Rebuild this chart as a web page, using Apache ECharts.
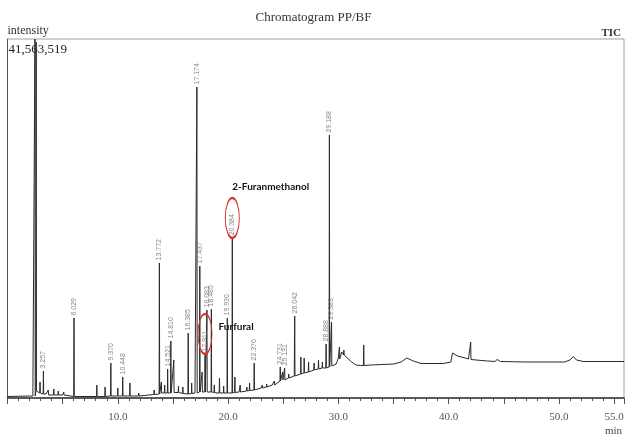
<!DOCTYPE html>
<html>
<head>
<meta charset="utf-8">
<script src="https://cdn.jsdelivr.net/npm/echarts@6/dist/echarts.min.js"></script>
<style>
  html, body { margin: 0; padding: 0; background: #fff; }
  #chart { width: 627px; height: 442px; }
</style>
</head>
<body>
<div id="chart"></div>
<script>
// Total ion chromatogram, PP/BF sample (retention time in min, intensity in counts)
const yMax = 41563519;
const xMax = 55.9;
const xTickLabels = [10, 20, 30, 40, 50, 55];

// Slowly varying baseline / broad humps
const baseT = [0, 2.3, 2.8, 3.5, 5.0, 6.5, 9.0, 12.0, 13.5, 14.0, 15.0, 16.0, 17.0, 18.0, 19.0, 20.0,
  21.0, 22.0, 23.0, 24.0, 25.0, 26.0, 27.0, 28.0, 29.0, 29.8, 30.0, 30.3, 30.7, 31.2, 31.6, 32.0,
  33.0, 35.0, 35.7, 36.2, 36.8, 37.5, 39.5, 40.2, 40.35, 40.8, 41.5, 41.8, 42.5, 43.5, 44.2,
  44.4, 44.7, 47.0, 50.5, 51.0, 51.3, 51.6, 52.2, 55.9];
const baseV = [174000, 232000, 810000, 463000, 347000, 174000, 174000, 232000, 405000, 579000, 637000,
  521000, 579000, 695000, 579000, 579000, 695000, 868000, 1158000, 1505000, 2084000, 2547000,
  3010000, 3358000, 3589000, 3936000, 4631000, 5326000, 4978000, 4168000, 3821000, 3763000,
  3821000, 3936000, 4168000, 4631000, 4284000, 3994000, 3994000, 4168000, 5210000, 4863000,
  4631000, 4515000, 4399000, 4284000, 4226000, 4457000, 4226000, 4168000, 4168000, 4399000,
  4805000, 4399000, 4226000, 4226000];

// Peaks: apex time, apex intensity, foot level, printed retention time ('' = unlabelled)
const peakT = [2.49, 2.60, 2.95, 3.257, 3.7, 4.2, 4.6, 5.1, 6.029, 8.1, 8.85, 9.370, 10.0, 10.448,
  11.1, 11.9, 13.3, 13.772, 13.95, 14.25, 14.521, 14.810, 15.08, 15.5, 15.9, 16.385, 16.7, 17.174,
  17.437, 17.65, 17.911, 18.083, 18.485, 18.75, 19.22, 19.6, 19.930, 20.384, 20.62, 21.1, 21.7,
  21.95, 22.370, 23.1, 23.5, 24.2, 24.731, 24.95, 25.131, 25.5, 26.042, 26.6, 26.9, 27.3, 27.8,
  28.2, 28.55, 28.888, 29.188, 29.383, 30.1, 30.5, 32.3, 42.0];
const peakV = [41563519, 41200000, 1852000, 3126000, 926000, 1042000, 810000, 695000, 9262000,
  1505000, 1274000, 4052000, 1158000, 2431000, 1737000, 579000, 926000, 15630000, 1852000,
  1505000, 3358000, 6599000, 4399000, 1389000, 1274000, 7525000, 1737000, 36006000, 15282000,
  3010000, 5094000, 10188000, 10304000, 1505000, 2316000, 1389000, 9262000, 18524000, 2431000,
  1505000, 1274000, 1737000, 4052000, 1505000, 1621000, 1968000, 3589000, 3010000, 3473000,
  2779000, 9494000, 4747000, 4631000, 4168000, 4052000, 4399000, 4168000, 6252000, 30449000,
  8799000, 5905000, 5557000, 6136000, 6483000];
const peakBase = [232000, 810000, 579000, 463000, 347000, 347000, 347000, 347000, 174000,
  174000, 174000, 232000, 232000, 232000, 232000, 232000, 405000, 463000, 579000, 579000,
  579000, 579000, 637000, 637000, 521000, 463000, 521000, 579000, 695000, 695000, 695000,
  695000, 695000, 637000, 579000, 579000, 579000, 579000, 637000, 695000, 810000, 868000,
  926000, 1158000, 1274000, 1505000, 1968000, 2084000, 2084000, 2316000, 2547000, 2779000,
  2895000, 3010000, 3242000, 3358000, 3473000, 3473000, 3589000, 3705000, 4515000, 4978000,
  3763000, 4457000];
const peakText = ['', '', '', '3.257', '', '', '', '', '6.029', '', '', '9.370', '', '10.448',
  '', '', '', '13.772', '', '', '14.521', '14.810', '', '', '', '16.385', '', '17.174',
  '17.437', '', '17.911', '18.083', '18.485', '', '', '', '19.930', '20.384', '', '', '',
  '', '22.370', '', '', '', '24.731', '', '25.131', '', '26.042', '', '', '', '', '', '',
  '28.888', '29.188', '29.383', '', '', '', ''];

// Identified compounds
const compoundPeaks = ['17.911', '20.384'];
const compoundNames = ['Furfural', '2-Furanmethanol'];

// Assemble the trace: baseline points plus a narrow spike for every peak
const halfWidth = 0.025;
const trace = baseT.map((t, i) => [t, baseV[i]]);
peakT.forEach((t, i) => {
  trace.push([t - halfWidth, peakBase[i]], [t, peakV[i]], [t + halfWidth, peakBase[i]]);
});
trace.sort((a, b) => a[0] - b[0]);

const labelled = [];
peakText.forEach((s, i) => { if (s) labelled.push({ value: [peakT[i], peakV[i]], name: s }); });

const compoundMarks = compoundPeaks.map((s, k) => {
  const i = peakText.indexOf(s);
  const first = k === 0;
  return {
    coord: [peakT[i], peakV[i]],
    symbol: 'circle',
    symbolSize: [14, 40],
    symbolOffset: [0, '-50%'],
    itemStyle: { color: 'rgba(0,0,0,0)', borderColor: '#d6312b', borderWidth: 1.6 },
    label: {
      show: true,
      formatter: compoundNames[k],
      position: first ? 'right' : 'top',
      distance: first ? 6 : 5,
      align: 'left',
      verticalAlign: first ? 'middle' : 'bottom',
      offset: first ? [0, -7] : [0, 0],
      fontFamily: 'Lato',
      fontWeight: 'bold',
      fontSize: 10,
      color: '#111'
    }
  };
});

const serif = 'Liberation Serif';
const chart = echarts.init(document.getElementById('chart'), null, { renderer: 'canvas' });
chart.setOption({
  animation: false,
  backgroundColor: '#fff',
  title: [
    { text: 'Chromatogram PP/BF', left: 'center', top: 6,
      textStyle: { fontFamily: serif, fontSize: 13, fontWeight: 'normal', color: '#333' } },
    { text: 'TIC', right: 1, top: 23,
      textStyle: { fontFamily: serif, fontSize: 11, fontWeight: 'bold', color: '#333' } }
  ],
  grid: { left: 7.5, right: 2, top: 39, bottom: 44, show: true, borderColor: '#a0a0a0', borderWidth: 1 },
  xAxis: [
    {
      type: 'value', min: 0, max: xMax, interval: 1,
      name: 'min', nameLocation: 'end', nameGap: -2,
      nameTextStyle: { fontFamily: serif, fontSize: 11, color: '#444', align: 'right', verticalAlign: 'top', padding: [28, 0, 0, 0] },
      axisLine: { lineStyle: { color: '#333', width: 1.5 } },
      axisTick: { length: 3, lineStyle: { color: '#555' } },
      splitLine: { show: false },
      axisLabel: {
        margin: 14, fontFamily: serif, fontSize: 11, color: '#555',
        formatter: v => (xTickLabels.indexOf(v) >= 0 ? v.toFixed(1) : '')
      }
    },
    {
      type: 'value', min: 0, max: xMax, interval: 5, position: 'bottom',
      axisLine: { show: false },
      axisTick: { length: 6, lineStyle: { color: '#555' } },
      axisLabel: { show: false },
      splitLine: { show: false }
    }
  ],
  yAxis: {
    type: 'value', min: 0, max: yMax, interval: yMax,
    name: 'intensity', nameLocation: 'end', nameGap: 2,
    nameTextStyle: { fontFamily: serif, fontSize: 12, color: '#333', align: 'left', verticalAlign: 'bottom' },
    axisLine: { show: true, lineStyle: { color: '#555', width: 1 } },
    axisTick: { show: false },
    splitLine: { show: false },
    axisLabel: {
      inside: true, margin: 1, fontFamily: serif, fontSize: 13, color: '#222',
      verticalAlign: 'top', align: 'left', padding: [4, 0, 0, 0],
      formatter: v => (v === yMax ? v.toLocaleString('en-US') : '')
    }
  },
  series: [
    {
      type: 'line', name: 'TIC', data: trace, symbol: 'none', showSymbol: false,
      lineStyle: { color: '#2a2a2a', width: 1 }, z: 3
    },
    {
      type: 'scatter', name: 'Retention times', data: labelled,
      symbolSize: 1, itemStyle: { color: 'rgba(0,0,0,0)' }, z: 4,
      label: {
        show: true, position: 'top', distance: 2, rotate: 90,
        align: 'left', verticalAlign: 'middle',
        formatter: p => p.name,
        fontFamily: 'Liberation Sans', fontSize: 7, color: '#666'
      },
      markPoint: { silent: true, data: compoundMarks }
    }
  ]
});
</script>
</body>
</html>
